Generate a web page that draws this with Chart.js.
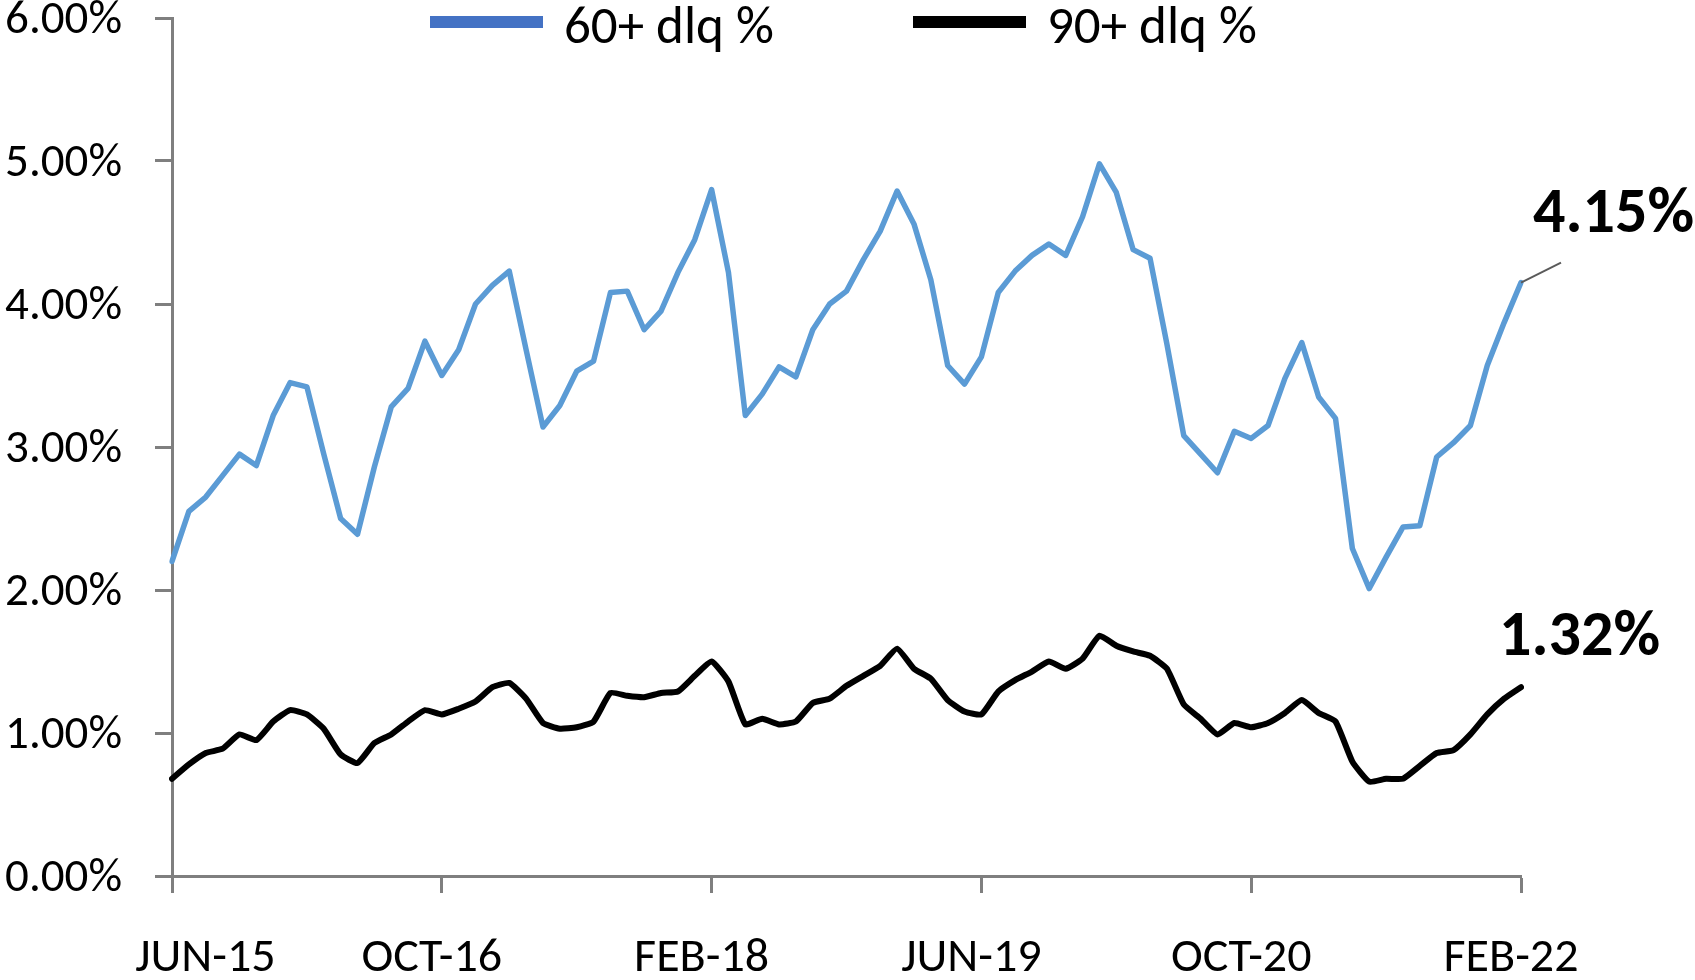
<!DOCTYPE html>
<html>
<head>
<meta charset="utf-8">
<title>60+ and 90+ delinquency</title>
<script src="https://cdn.jsdelivr.net/npm/chart.js@4.4.1/dist/chart.umd.min.js"></script>
<style>
  html, body { margin: 0; padding: 0; background: #ffffff; }
  #wrap { width: 1695px; height: 980px; }
</style>
</head>
<body>
<div id="wrap"><canvas id="chart" width="1695" height="980"></canvas></div>
<script>
// Monthly series, JUN-15 through FEB-22 (81 months)
const monthNames = ['JAN','FEB','MAR','APR','MAY','JUN','JUL','AUG','SEP','OCT','NOV','DEC'];
const months = [];
for (let i = 0; i < 81; i++) {
  const m = (5 + i) % 12;
  const yr = 15 + Math.floor((5 + i) / 12);
  months.push(monthNames[m] + '-' + yr);
}

// Axis labels shown along the bottom
const tickLabels = ['JUN-15', 'OCT-16', 'FEB-18', 'JUN-19', 'OCT-20', 'FEB-22'];

// 60+ days delinquent, %
const dlq60 = [
  2.20, 2.55, 2.65, 2.80, 2.95, 2.87, 3.22, 3.45, 3.42, 2.95,
  2.50, 2.39, 2.86, 3.28, 3.41, 3.74, 3.50, 3.68, 4.00, 4.13,
  4.23, 3.68, 3.14, 3.29, 3.53, 3.60, 4.08, 4.09, 3.82, 3.95,
  4.22, 4.45, 4.80, 4.22, 3.22, 3.37, 3.56, 3.49, 3.82, 4.00,
  4.09, 4.31, 4.51, 4.79, 4.56, 4.17, 3.57, 3.44, 3.63, 4.08,
  4.23, 4.34, 4.42, 4.34, 4.61, 4.98, 4.78, 4.38, 4.32, 3.72,
  3.08, 2.95, 2.82, 3.11, 3.06, 3.15, 3.48, 3.73, 3.35, 3.20,
  2.29, 2.01, 2.23, 2.44, 2.45, 2.93, 3.03, 3.15, 3.57, 3.87,
  4.15
];

// 90+ days delinquent, %
const dlq90 = [
  0.68, 0.78, 0.86, 0.89, 0.99, 0.95, 1.08, 1.16, 1.13, 1.03,
  0.85, 0.79, 0.93, 0.99, 1.08, 1.16, 1.13, 1.17, 1.22, 1.32,
  1.35, 1.24, 1.07, 1.03, 1.04, 1.08, 1.28, 1.26, 1.25, 1.28,
  1.29, 1.40, 1.50, 1.36, 1.06, 1.10, 1.06, 1.08, 1.21, 1.24,
  1.33, 1.40, 1.47, 1.59, 1.45, 1.38, 1.23, 1.15, 1.13, 1.29,
  1.37, 1.43, 1.50, 1.45, 1.52, 1.68, 1.61, 1.57, 1.54, 1.45,
  1.20, 1.10, 0.99, 1.07, 1.04, 1.07, 1.14, 1.23, 1.14, 1.08,
  0.80, 0.66, 0.68, 0.68, 0.77, 0.86, 0.88, 0.99, 1.13, 1.24,
  1.32
];

const seriesNames = ['60+ dlq %', '90+ dlq %'];

const FONT = "Carlito, Lato, 'Noto Sans', sans-serif";
const AXIS_GREY = '#7f7f7f';

// Legend drawn over the top of the plot, one bar + text per series
const topLegend = {
  id: 'topLegend',
  afterDraw(chart) {
    const ctx = chart.ctx;
    const items = [
      { ds: chart.data.datasets[0], x: 430 },
      { ds: chart.data.datasets[1], x: 913 }
    ];
    ctx.save();
    ctx.font = '53px ' + FONT;
    ctx.textAlign = 'left';
    ctx.textBaseline = 'alphabetic';
    items.forEach(it => {
      ctx.fillStyle = it.ds.legendColor;
      ctx.fillRect(it.x, 16, 113, 12);
      ctx.fillStyle = '#000000';
      ctx.fillText(it.ds.label, it.x + 134, 43);
    });
    ctx.restore();
  }
};

// Bold end-of-series value callouts
const endValues = {
  id: 'endValues',
  afterDatasetsDraw(chart) {
    const ctx = chart.ctx;
    const xs = chart.scales.x, ys = chart.scales.y;
    const last = dlq60.length - 1;
    const x = xs.getPixelForValue(last);
    const y60 = ys.getPixelForValue(dlq60[last]);
    const y90 = ys.getPixelForValue(dlq90[last]);
    ctx.save();
    ctx.strokeStyle = '#5a5a5a';
    ctx.lineWidth = 2;
    ctx.beginPath();
    ctx.moveTo(x, y60);
    ctx.lineTo(x + 40, y60 - 20);
    ctx.stroke();
    ctx.fillStyle = '#000000';
    ctx.font = 'bold 64px ' + FONT;
    ctx.textAlign = 'left';
    ctx.textBaseline = 'alphabetic';
    ctx.fillText(dlq60[last].toFixed(2) + '%', x + 12, y60 - 51);
    ctx.fillText(dlq90[last].toFixed(2) + '%', x - 22, y90 - 32);
    ctx.restore();
  }
};

new Chart(document.getElementById('chart'), {
  type: 'line',
  data: {
    labels: months,
    datasets: [
      {
        label: seriesNames[0],
        data: dlq60,
        borderColor: '#5b9bd5',
        legendColor: '#4472c4',
        backgroundColor: '#5b9bd5',
        borderWidth: 5.5,
        pointRadius: 0,
        tension: 0,
        borderJoinStyle: 'round',
        borderCapStyle: 'round'
      },
      {
        label: seriesNames[1],
        data: dlq90,
        borderColor: '#000000',
        legendColor: '#000000',
        backgroundColor: '#000000',
        borderWidth: 6,
        pointRadius: 0,
        tension: 0.15,
        borderJoinStyle: 'round',
        borderCapStyle: 'round'
      }
    ]
  },
  options: {
    responsive: false,
    animation: false,
    devicePixelRatio: 1,
    layout: { padding: { top: 18, right: 174, bottom: 0, left: 0 } },
    plugins: {
      legend: { display: false },
      tooltip: { enabled: false }
    },
    scales: {
      x: {
        type: 'category',
        offset: false,
        afterFit(scale) { scale.height = 104; },
        border: { display: true, color: AXIS_GREY, width: 3 },
        grid: {
          drawOnChartArea: false,
          drawTicks: true,
          tickLength: 17,
          tickWidth: 3,
          tickColor: (c) => (tickLabels.includes(months[c.index]) ? AXIS_GREY : 'rgba(0,0,0,0)')
        },
        ticks: {
          autoSkip: false,
          maxRotation: 0,
          minRotation: 0,
          padding: 37,
          labelOffset: -10,
          color: '#000000',
          font: { family: FONT, size: 48 },
          // first label sits a little right of its tick, clear of the corner
          callback: (v, i) => (tickLabels.includes(months[i]) ? (i === 0 ? '        ' + months[i] : months[i]) : '')
        }
      },
      y: {
        min: 0,
        max: 6,
        afterFit(scale) {
          scale.width = 172;
          scale.paddingTop = 0;
          scale.paddingBottom = 0;
        },
        border: { display: true, color: AXIS_GREY, width: 3 },
        grid: {
          drawOnChartArea: false,
          drawTicks: true,
          tickLength: 17,
          tickWidth: 3,
          tickColor: AXIS_GREY
        },
        ticks: {
          stepSize: 1,
          padding: 33,
          labelOffset: 3,
          color: '#000000',
          font: { family: FONT, size: 47, lineHeight: 0.7 },
          callback: (v) => v.toFixed(2) + '%'
        }
      }
    }
  },
  plugins: [topLegend, endValues]
});
</script>
</body>
</html>
